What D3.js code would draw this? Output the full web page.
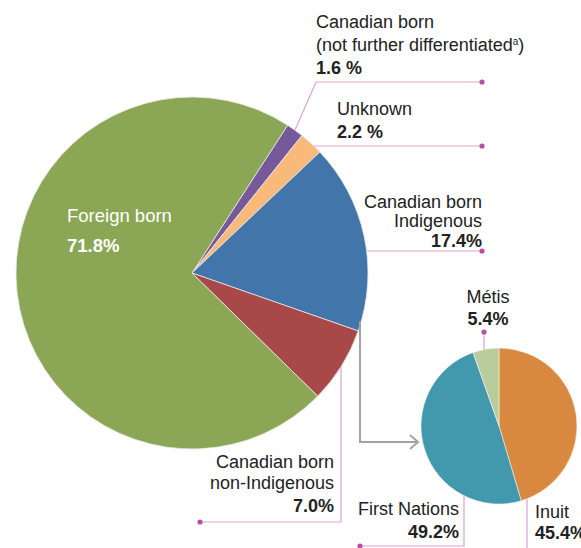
<!DOCTYPE html>
<html>
<head>
<meta charset="utf-8">
<script src="https://cdn.jsdelivr.net/npm/d3@7"></script>
<style>
  body { margin: 0; background: #fff; }
  text { font-family: "Liberation Sans", Arial, sans-serif; font-size: 18px; fill: #222; }
  .pct { font-weight: bold; }
</style>
</head>
<body>
<div id="chart"></div>
<script>
// Main pie: birthplace of population
var mainCats = ["Canadian born (not further differentiated)", "Unknown", "Canadian born Indigenous", "Canadian born non-Indigenous", "Foreign born"];
var mainVals = [1.6, 2.2, 17.4, 7.0, 71.8];
var mainColors = ["#76599b", "#f9b97b", "#4275a9", "#a94849", "#8ba755"];

// Sub pie: breakdown of Canadian born Indigenous
var subCats = ["Inuit", "First Nations", "Métis"];
var subVals = [45.4, 49.2, 5.4];
var subColors = ["#d9883f", "#4299ad", "#b9cc9b"];

var width = 581, height = 548;
var lineColor = "#d9a3d3", dotColor = "#b94fa3";

var svg = d3.select("#chart").append("svg")
    .attr("width", width)
    .attr("height", height);

var main = { cx: 192, cy: 273, r: 176 };
var sub = { cx: 499, cy: 426, r: 78 };

var startA = 32.9 * Math.PI / 180;

var mainPie = d3.pie().sort(null).startAngle(startA).endAngle(startA + 2 * Math.PI);
var subPie = d3.pie().sort(null);

var mainArc = d3.arc().innerRadius(0).outerRadius(main.r);
var subArc = d3.arc().innerRadius(0).outerRadius(sub.r);

svg.append("g")
    .attr("transform", "translate(" + main.cx + "," + main.cy + ")")
    .selectAll("path")
    .data(mainPie(mainVals))
    .enter().append("path")
    .attr("d", mainArc)
    .style("fill", function (d, i) { return mainColors[i]; })
    .style("stroke", "#e8e8e8")
    .style("stroke-width", 0.8);

svg.append("g")
    .attr("transform", "translate(" + sub.cx + "," + sub.cy + ")")
    .selectAll("path")
    .data(subPie(subVals))
    .enter().append("path")
    .attr("d", subArc)
    .style("fill", function (d, i) { return subColors[i]; })
    .style("stroke", "#fff")
    .style("stroke-width", 0.5);

// point on circle edge
function edgeX(c, y) { return c.cx + Math.sqrt(c.r * c.r - (y - c.cy) * (y - c.cy)); }
function edgeY(c, x, sign) { return c.cy + sign * Math.sqrt(c.r * c.r - (x - c.cx) * (x - c.cx)); }

function leader(points, dotAt) {
    svg.append("path")
        .attr("d", d3.line()(points))
        .style("fill", "none")
        .style("stroke", lineColor)
        .style("stroke-width", 1.2);
    svg.append("circle")
        .attr("cx", dotAt[0]).attr("cy", dotAt[1]).attr("r", 2.6)
        .style("fill", dotColor);
}

var mainSlices = mainPie(mainVals);
var pct = function (v) { return d3.format(".1f")(v) + "%"; };

// Canadian born (not further differentiated)
var s0 = mainSlices[0];
var m0 = (s0.startAngle + s0.endAngle) / 2;
leader([[482, 82], [316, 82], [main.cx + main.r * Math.sin(m0), main.cy - main.r * Math.cos(m0)]], [482, 82]);
svg.append("text").attr("x", 316).attr("y", 28).text("Canadian born");
var t0 = svg.append("text").attr("x", 316).attr("y", 51);
t0.append("tspan").text("(not further differentiated");
t0.append("tspan").attr("dy", -6).style("font-size", "10px").text("a");
t0.append("tspan").attr("dy", 6).text(")");
svg.append("text").attr("class", "pct").attr("x", 316).attr("y", 74).text(d3.format(".1f")(mainVals[0]) + " %");

// Unknown
leader([[482, 146], [edgeX(main, 146), 146]], [482, 146]);
svg.append("text").attr("x", 337).attr("y", 115).text(mainCats[1]);
svg.append("text").attr("class", "pct").attr("x", 337).attr("y", 138).text(d3.format(".1f")(mainVals[1]) + " %");

// Canadian born Indigenous
leader([[482, 251], [edgeX(main, 251), 251]], [482, 251]);
svg.append("text").attr("x", 482).attr("y", 208).attr("text-anchor", "end").text("Canadian born");
svg.append("text").attr("x", 482).attr("y", 227).attr("text-anchor", "end").text("Indigenous");
svg.append("text").attr("class", "pct").attr("x", 482).attr("y", 247).attr("text-anchor", "end").text(pct(mainVals[2]));

// Canadian born non-Indigenous
leader([[341, edgeY(main, 341, 1)], [341, 522], [200, 522]], [200, 522]);
svg.append("text").attr("x", 334).attr("y", 468).attr("text-anchor", "end").text("Canadian born");
svg.append("text").attr("x", 334).attr("y", 489).attr("text-anchor", "end").text("non-Indigenous");
svg.append("text").attr("class", "pct").attr("x", 334).attr("y", 512).attr("text-anchor", "end").text(pct(mainVals[3]));

// Foreign born (inside)
svg.append("text").attr("x", 67).attr("y", 222).style("fill", "#fff").style("font-size", "18.5px").text(mainCats[4]);
svg.append("text").attr("class", "pct").attr("x", 67).attr("y", 252).style("fill", "#fff").style("font-size", "18.5px").text(pct(mainVals[4]));

// Gray connector arrow
svg.append("path")
    .attr("d", d3.line()([[360, edgeY(main, 360, 1) - 4], [360, 442], [418, 442]]))
    .style("fill", "none").style("stroke", "#a3a3a3").style("stroke-width", 2);
svg.append("path")
    .attr("d", d3.line()([[410, 435], [418, 442], [410, 449]]))
    .style("fill", "none").style("stroke", "#a3a3a3").style("stroke-width", 2);

// Métis
leader([[484, 332], [484, edgeY(sub, 484, -1)]], [484, 332]);
svg.append("text").attr("x", 488).attr("y", 303).attr("text-anchor", "middle").text(subCats[2]);
svg.append("text").attr("class", "pct").attr("x", 488).attr("y", 325).attr("text-anchor", "middle").text(pct(subVals[2]));

// First Nations
leader([[464, edgeY(sub, 464, 1)], [464, 546], [360, 546]], [360, 546]);
svg.append("text").attr("x", 459).attr("y", 515).attr("text-anchor", "end").text(subCats[1]);
svg.append("text").attr("class", "pct").attr("x", 459).attr("y", 538).attr("text-anchor", "end").text(pct(subVals[1]));

// Inuit
svg.append("path")
    .attr("d", d3.line()([[527, edgeY(sub, 527, 1)], [527, 550], [590, 550]]))
    .style("fill", "none").style("stroke", lineColor).style("stroke-width", 1.2);
svg.append("text").attr("x", 535).attr("y", 518).text(subCats[0]);
svg.append("text").attr("class", "pct").attr("x", 535).attr("y", 539).text(pct(subVals[0]));
</script>
</body>
</html>
